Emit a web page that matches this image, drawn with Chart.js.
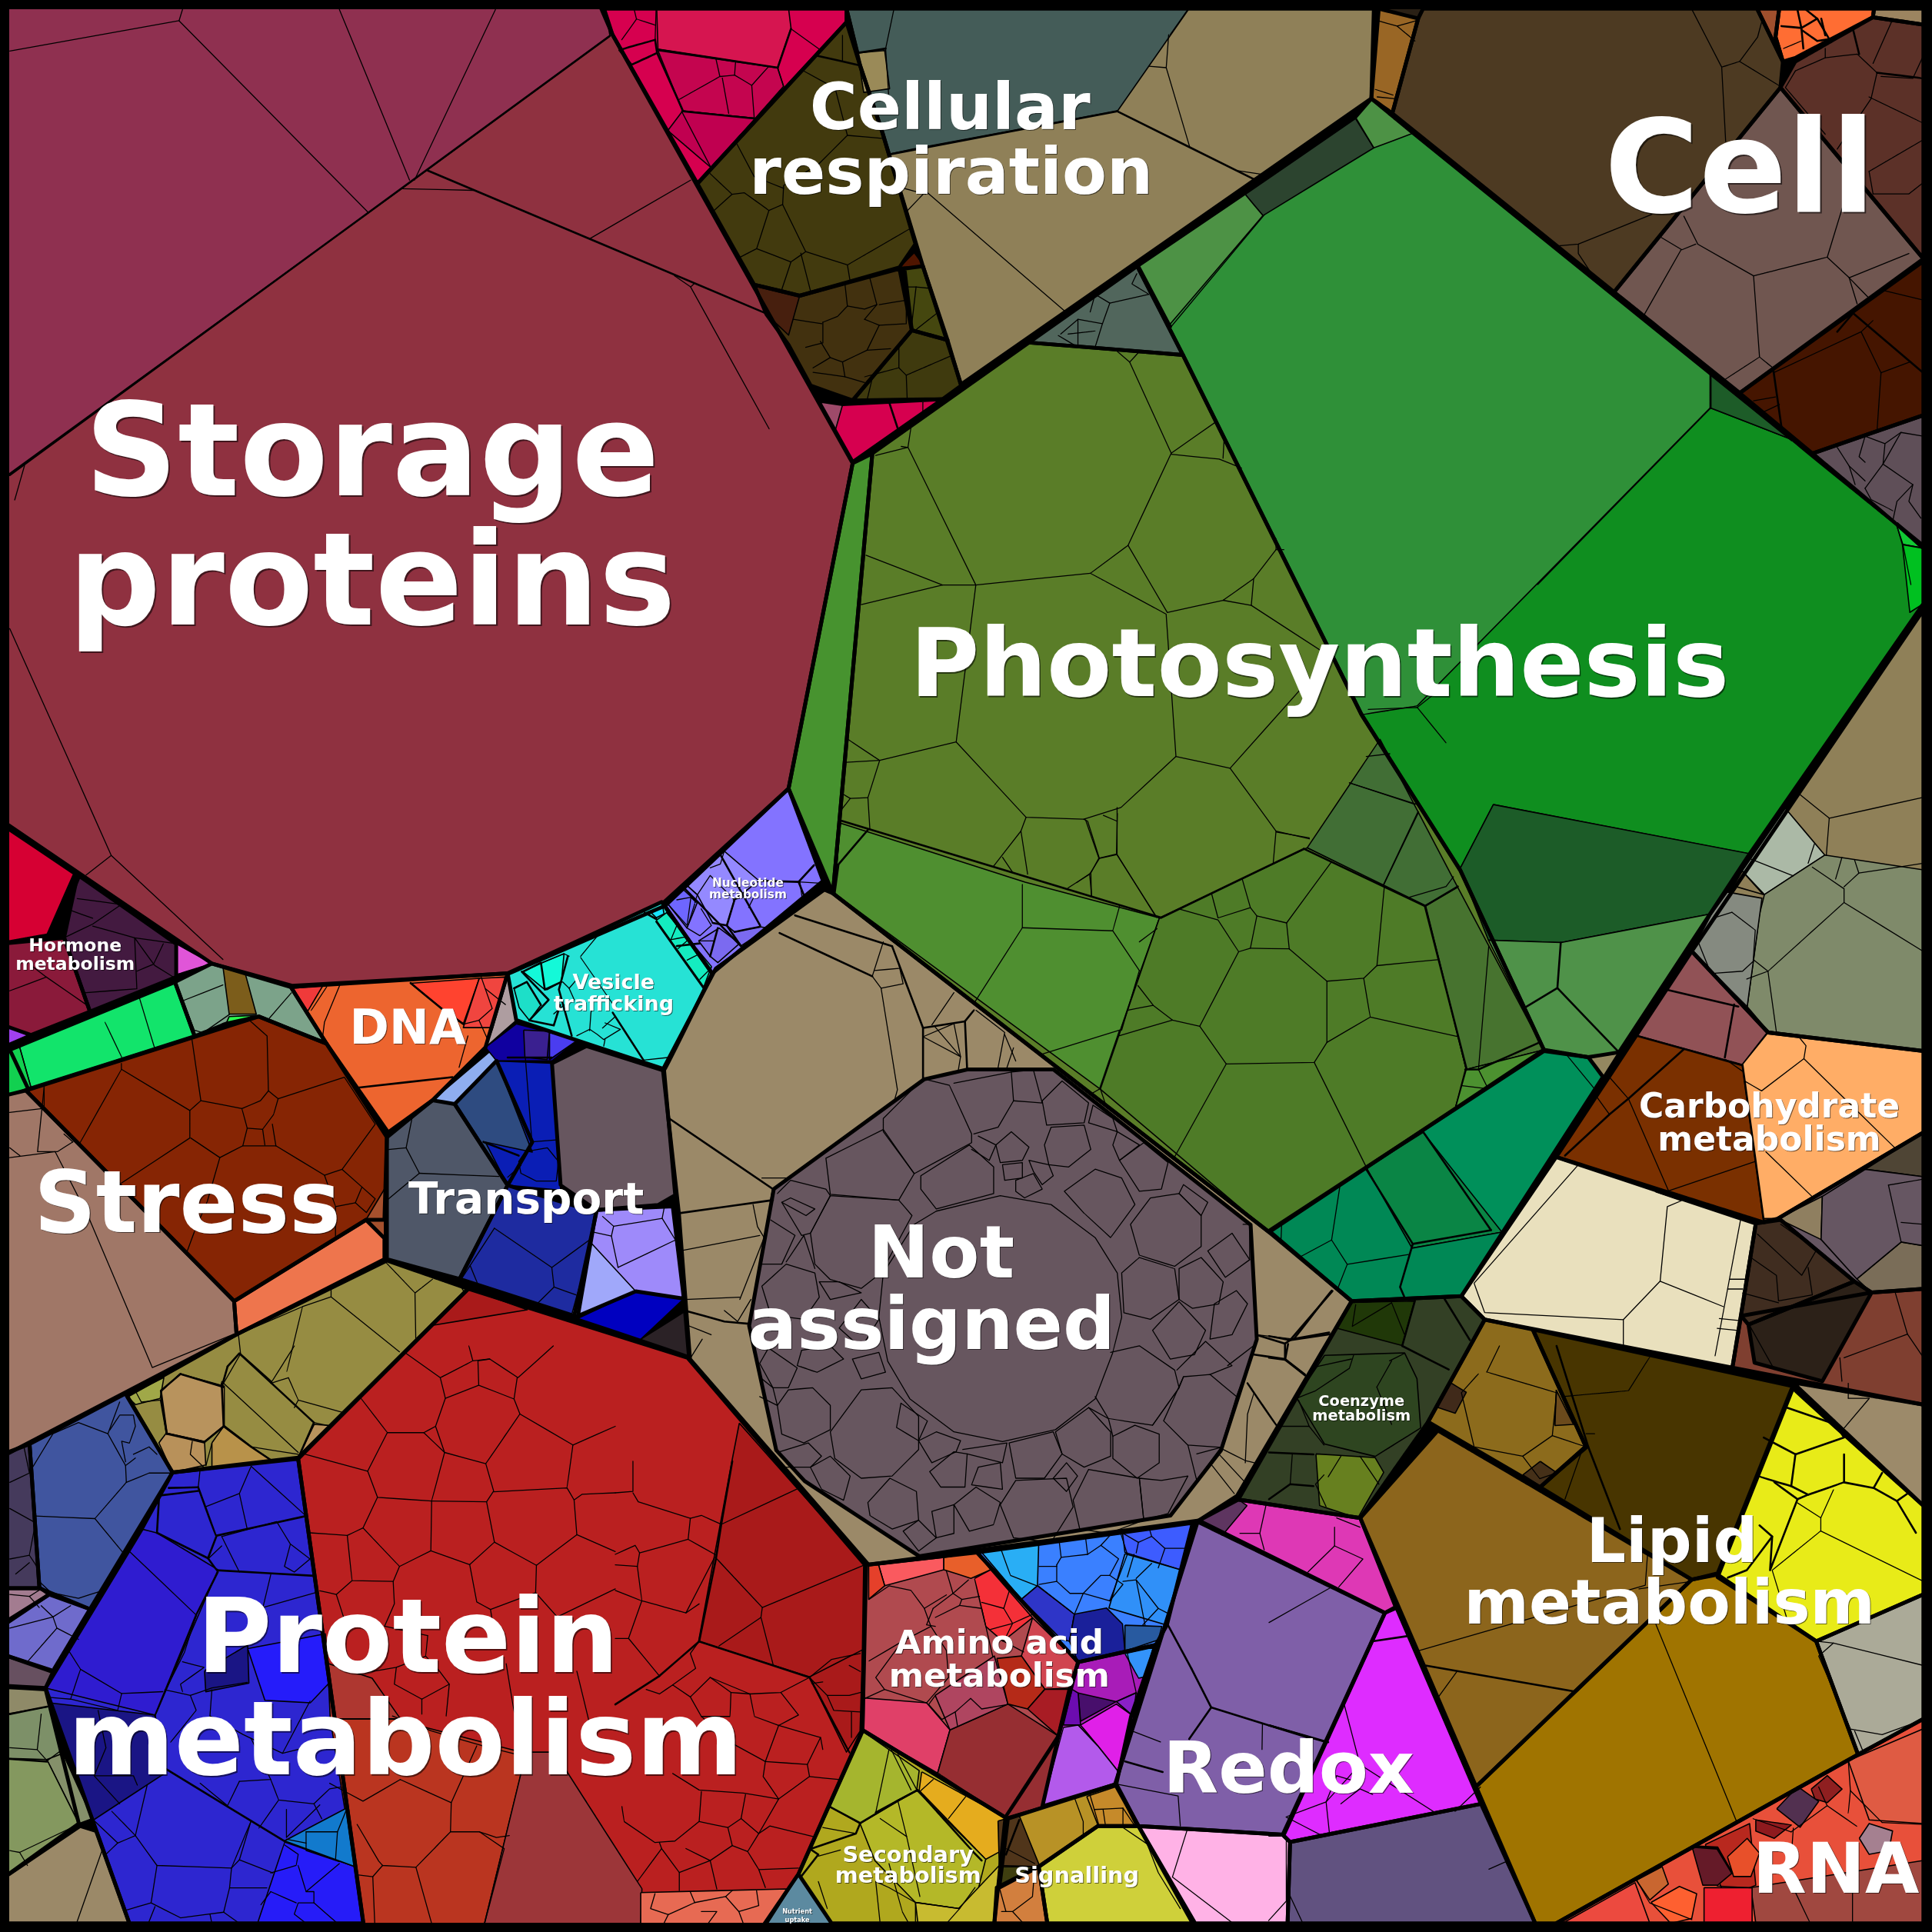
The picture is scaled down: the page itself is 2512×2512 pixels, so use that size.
<!DOCTYPE html>
<html><head><meta charset="utf-8">
<style>html,body{margin:0;padding:0;background:#000}canvas{display:block}</style>
<script src="https://cdn.jsdelivr.net/npm/chart.js@4/dist/chart.umd.min.js"></script>
</head><body><canvas id="c" width="2512" height="2512"></canvas>
<script>
const axisMax = 1568;
const labelTexts = ["Storage","proteins","Photosynthesis","Cell","Cellular","respiration","Not","assigned","Stress","Transport","DNA","Protein","metabolism","Lipid","metabolism","RNA","Redox","Amino acid","metabolism","Carbohydrate","metabolism","Hormone","metabolism","Vesicle","trafficking","Nucleotide","metabolism","Coenzyme","metabolism","Secondary","metabolism","Signalling","Nutrient","uptake"];
const labelX = [302,302,1071,1412,771,772,764,756,152,427,331,331,329,1357,1355,1490,1046,811,811,1436,1436,61,61,498,498,607,607,1105,1105,737,737,874,647,647];
const labelY = [402,507,565,172,105,157,1037,1095,1000,985,847,1357,1440,1268,1318,1536,1455,1342,1369,907,934,772,787,803,820,720,729,1141,1153,1511,1528,1528,1553,1560];
const labelPx = [168,168,123,168,84.5,84.5,95,95,112,56.5,62,133,133,81,81,91,93.5,43.5,43.5,44,44,23.5,23.5,27,27,15.3,15.3,19.4,19.4,28.8,28.8,28.8,8.2,8.2];

const groupRegions = [
["#8F3140",[0,0,488,0,497,28,692,376,640,640,540,735,413,790,237,800,172,782,0,665]],
["#D6004F",[488,7,687,7,687,18,566,149,497,28]],
["#423A0E",[687,18,698,53,716,107,743,198,730,217,649,240,612,231,566,149]],
["#42310F",[649,240,730,218,740,268,692,325,658,313,640,280,622,255,612,231]],
["#3F3A0E",[740,268,769,276,780,313,765,324,692,325]],
["#45470F",[734,218,749,216,769,276,740,268]],
["#D6004F",[664,325,684,328,765,324,692,375]],
["#8F8058",[687,7,1115,7,1113,80,780,312,749,216,716,107,698,53]],
["#51665C",[923,216,960,288,835,278]],
["#2F9038",[1010,157,1100,95,1113,80,1147,108,1388,303,1455,357,1539,425,1561,445,1561,490,1420,693,1314,854,1289,858,1253,852,1185,706,1105,580,960,288,923,216]],
["#5A7D28",[835,278,960,288,1105,580,1185,706,1253,852,1030,1000,676,725,708,368]],
["#47932F",[692,376,708,368,676,725,640,640]],
["#00905A",[1253,853,1289,858,1301,874,1186,1052,1097,1056,1030,999]],
["#7A3000",[1373,772,1435,838,1561,853,1561,919,1443,989,1431,992,1263,939]],
["#E9E0BD",[1263,939,1425,993,1406,1110,1205,1071,1186,1052]],
["#8F8058",[1561,495,1373,772,1435,838,1561,853]],
["#4D3A22",[1155,7,1426,7,1447,50,1445,71,1310,237,1130,92,1151,15]],
["#996625",[1119,7,1151,15,1130,92,1113,80]],
["#705650",[1310,237,1445,71,1561,210,1412,319]],
["#5C3128",[1445,71,1457,50,1520,14,1561,20,1561,210]],
["#FF6D33",[1444,7,1521,7,1520,14,1457,47,1447,50,1441,30]],
["#A04F2D",[1426,7,1444,7,1441,30,1447,50]],
["#9C8460",[1521,7,1561,7,1561,20,1520,14]],
["#451500",[1412,319,1561,212,1561,337,1471,368]],
["#5F4F58",[1471,368,1561,337,1561,443,1539,425]],
["#9B8968",[538,868,581,786,669,722,676,725,1030,1000,1097,1056,1004,1214,973,1234,705,1270,560,1103,551,985]],
["#67565F",[750,876,785,868,855,868,1015,994,1020,1087,991,1177,950,1230,746,1263,653,1202,630,1177,608,1076,628,965]],
["#67565F",[448,863,476,849,539,869,548,970,534,978,484,982,455,962]],
["#4F5768",[314,923,351,893,369,896,412,962,373,1038,314,1022]],
["#2E4B80",[369,896,403,861,432,927,412,962]],
["#1E2BA0",[373,1038,412,962,484,984,466,1068]],
["#9E8AFA",[484,982,546,979,555,1054,516,1048,469,1068]],
["#862504",[21,885,210,825,265,847,314,923,312,990,297,990,190,1056]],
["#EE754D",[190,1056,297,990,312,1005,312,1022,192,1083]],
["#A07767",[0,890,21,885,190,1056,192,1083,0,1183]],
["#12E46B",[8,852,142,797,158,841,23,884]],
["#7CA38A",[142,797,172,782,236,801,265,847,210,825,183,831,158,841]],
["#ED652F",[236,801,412,790,394,850,351,893,315,919,265,847]],
["#26E2D5",[412,790,537,732,578,790,540,868,419,828]],
["#8373FF",[538,733,640,640,668,715,578,790]],
["#D60033",[0,668,61,709,39,759,0,766]],
["#431A40",[63,710,143,766,143,793,73,821,52,761]],
["#8A1A3A",[0,766,52,761,73,821,25,840,0,831]],
["#968C42",[314,1023,380,1046,242,1183,140,1195,103,1133,192,1083]],
["#BA2020",[242,1184,380,1046,558,1102,702,1270,700,1405,648,1521,620,1562,295,1562]],
["#2D26D0",[140,1195,242,1184,295,1561,105,1561,37,1370,115,1241]],
["#40559F",[24,1172,102,1131,140,1195,73,1306,32,1289]],
["#453A5C",[0,1181,24,1172,32,1289,0,1289]],
["#A37C90",[0,1289,33,1289,40,1294,0,1319]],
["#6F6BCC",[0,1321,40,1294,73,1306,43,1356,0,1342]],
["#675060",[0,1342,43,1357,37,1370,0,1368]],
["#7D9068",[0,1369,37,1371,64,1480,0,1526]],
["#9B8968",[0,1526,65,1482,78,1486,105,1561,0,1561]],
["#B04A4F",[703,1270,793,1260,875,1349,868,1371,859,1409,816,1475,700,1404]],
["#3A80FF",[793,1260,968,1236,947,1319,938,1335,875,1349]],
["#A81CB8",[875,1349,938,1335,918,1393,906,1448,846,1466,859,1409]],
["#B0A81E",[700,1404,816,1475,807,1561,675,1561,648,1521]],
["#B89226",[818,1476,906,1448,924,1482,891,1482,843,1515,811,1532]],
["#CFD03A",[891,1482,924,1482,968,1561,850,1561,843,1515]],
["#D27F3E",[809,1532,843,1515,850,1561,807,1561]],
["#7F5FA8",[972,1235,1124,1309,1042,1489,924,1482,905,1448]],
["#DE38B5",[973,1234,1005,1217,1104,1232,1133,1305,1124,1309]],
["#DE2CFF",[1124,1309,1133,1304,1202,1464,1047,1495,1041,1489]],
["#FFB2E6",[924,1482,1041,1489,1047,1495,1045,1561,970,1561]],
["#615280",[1047,1495,1202,1464,1246,1561,1045,1561]],
["#8C651C",[1104,1232,1167,1161,1373,1282,1198,1450]],
["#A07400",[1198,1450,1373,1282,1394,1278,1474,1332,1508,1424,1263,1561,1246,1561]],
["#8C6B1C",[1205,1071,1244,1079,1287,1174,1250,1207,1159,1154]],
["#483500",[1244,1079,1455,1125,1394,1277,1373,1282,1250,1207,1287,1174]],
["#E8EB18",[1455,1127,1561,1222,1561,1294,1474,1332,1394,1280]],
["#ABAA98",[1474,1332,1561,1294,1561,1395,1508,1424]],
["#9C8A6A",[1455,1122,1561,1140,1561,1222]],
["#E8503A",[1263,1561,1508,1424,1561,1395,1561,1561]],
["#7F3F30",[1406,1110,1413,1068,1519,1049,1561,1046,1561,1140]],
["#2C2118",[1419,1075,1505,1040,1519,1049,1479,1121,1424,1106]],
["#402D20",[1425,993,1445,990,1505,1040,1419,1075,1413,1068]],
["#665662",[1443,989,1561,919,1561,1046,1519,1049,1505,1040,1445,990]],
["#334025",[1097,1056,1186,1052,1205,1071,1159,1154,1104,1232,1005,1217]]
];
const subRegions = [
["#8F3050",[0,0,490,0,495,29,333,148,0,390]],
["#D61550",[533,7,640,7,642,23,631,55,534,40]],
["#C4054F",[534,41,631,55,636,70,613,96,554,90]],
["#C00050",[554,90,613,96,577,136,542,106]],
["#471F0E",[612,231,649,240,640,272,622,255]],
["#4F1500",[730,217,742,205,750,216]],
["#9E4A6A",[664,325,684,328,678,349]],
["#445C58",[688,7,965,7,907,90,741,121,722,125,700,55]],
["#9A8A58",[696,43,718,41,722,72,701,75]],
["#2C442F",[1010,157,1100,96,1115,120,1025,175]],
["#4D9245",[923,216,1010,157,1025,175,948,265]],
["#4D9245",[1100,95,1113,81,1147,108,1115,120]],
["#0F8E1F",[1388,331,1455,357,1539,425,1561,490,1420,693,1212,653,1185,705,1105,580,1150,573]],
["#1D5C28",[1388,303,1455,357,1388,331]],
["#11C933",[1539,425,1561,445,1544,442]],
["#00C020",[1544,442,1561,445,1561,490,1550,497]],
["#1C5C28",[1212,653,1421,693,1387,742,1267,765,1208,763,1185,705]],
["#4F9249",[1208,763,1267,765,1387,742,1314,854,1289,858,1253,852]],
["#4F8F30",[677,725,682,668,832,716,941,745,925,790,893,884]],
["#4E7B27",[941,745,1061,688,1157,735,1190,868,1181,900,1030,1000,893,884]],
["#416E35",[1061,688,1120,600,1183,720,1157,735]],
["#47732F",[1157,735,1183,720,1253,852,1190,868]],
["#4C9130",[1190,868,1253,852,1181,900]],
["#0A8545",[1155,919,1219,1000,1146,1013,1109,948]],
["#008855",[1030,999,1109,948,1146,1013,1219,1000,1186,1052,1097,1056]],
["#948860",[1289,858,1313,855,1301,874]],
["#915256",[1373,772,1435,837,1414,864,1327,840]],
["#FFAD66",[1435,838,1561,853,1561,919,1443,989,1431,989,1414,864]],
["#ABB9A6",[1449,656,1481,694,1432,726,1414,707]],
["#8F8058",[1407,719,1414,707,1431,726]],
["#7F8A6A",[1432,726,1481,694,1561,706,1561,853,1435,837,1418,817,1428,742]],
["#858A80",[1402,724,1430,729,1418,817,1373,772,1389,742]],
["#2A2015",[1119,7,1155,7,1151,15]],
["#0A1EB5",[403,861,448,863,455,966,412,962,394,927,432,935]],
["#8FAEF0",[351,893,398,853,403,861,369,896]],
["#1000A0",[394,850,419,831,469,844,448,861,403,861]],
["#3A2090",[425,836,446,837,444,860,426,858]],
["#4A3DF0",[446,838,469,844,446,860]],
["#A0A8FA",[480,1009,516,1048,469,1068,464,1067]],
["#0000C0",[469,1070,516,1048,555,1054,520,1087]],
["#2B2226",[520,1087,555,1065,558,1100]],
["#A5502D",[297,990,312,965,312,1005]],
["#7C5D1B",[181,785,199,790,208,823,186,823]],
["#2BFF50",[186,825,208,824,183,832]],
["#FF432F",[333,798,389,794,376,831,358,818]],
["#F0453F",[389,794,410,793,400,834,376,834]],
["#AE9DA0",[412,793,419,828,394,850,400,834]],
["#F03A3A",[238,802,262,800,249,822]],
["#E055D8",[143,766,172,782,143,791]],
["#A040F0",[0,831,23,840,0,850]],
["#12D050",[0,853,16,850,25,882,0,892]],
["#B8935D",[146,1115,182,1125,182,1157,166,1170,135,1163,130,1130]],
["#B8915A",[135,1163,166,1170,167,1189,140,1195,129,1171]],
["#B8924A",[172,1171,182,1157,204,1174,220,1185,172,1192]],
["#B8935D",[242,1183,255,1156,268,1157]],
["#A0A848",[103,1133,133,1118,130,1135,110,1140]],
["#A91A1A",[600,1155,702,1270,702,1345,657,1361,567,1332,594,1186]],
["#A91A1A",[380,1046,428,1063,349,1076]],
["#A91A1A",[657,1361,700,1339,698,1405,687,1422]],
["#BA3520",[268,1395,318,1395,427,1423,393,1562,295,1562]],
["#9C3639",[427,1422,450,1422,521,1533,520,1562,393,1562]],
["#AE3730",[266,1350,302,1362,325,1395,268,1395]],
["#E76A53",[520,1536,639,1533,620,1561,520,1561]],
["#5C8AA0",[648,1522,675,1561,623,1561]],
["#2F1CD0",[115,1241,127,1244,177,1274,126,1392,37,1370,56,1339]],
["#1A1585",[40,1382,126,1392,134,1439,76,1477]],
["#261CF8",[231,1495,288,1515,295,1561,209,1561]],
["#127ACD",[282,1467,288,1515,231,1494]],
["#251CFA",[201,1338,264,1326,268,1365,252,1382,215,1380]],
["#1A1585",[166,1356,201,1335,202,1366,167,1373]],
["#85906A",[38,1428,51,1423,75,1476,64,1480]],
["#84985F",[0,1427,38,1428,64,1480,0,1526]],
["#8F8A68",[0,1369,37,1371,40,1385,0,1392]],
["#FA5A5F",[713,1270,766,1264,766,1274,718,1287]],
["#E5402A",[705,1270,713,1270,718,1287,705,1298]],
["#E85F2A",[766,1264,793,1260,804,1274,788,1281,766,1274]],
["#F43038",[791,1281,804,1274,838,1313,814,1332,800,1320]],
["#D04550",[838,1313,875,1349,870,1370,848,1371,829,1344]],
["#E04068",[701,1378,752,1382,771,1404,761,1439,700,1404]],
["#962E32",[771,1404,818,1383,859,1409,847,1466,816,1475,761,1439]],
["#AF4560",[759,1376,807,1344,818,1383,771,1404]],
["#B52A18",[809,1346,829,1344,848,1371,834,1387,818,1383]],
["#A81C24",[848,1371,870,1371,859,1409,834,1387]],
["#29AEF5",[796,1259,843,1253,842,1287,829,1298]],
["#3D5CFF",[911,1244,968,1236,958,1274,913,1260]],
["#3090F8",[913,1261,958,1274,947,1319,900,1305]],
["#2E35C8",[829,1298,842,1287,872,1310,868,1332,861,1330]],
["#1A209A",[872,1310,898,1305,911,1318,913,1340,875,1349,868,1332]],
["#285AA0",[913,1319,943,1320,940,1331,913,1340]],
["#3393FA",[913,1342,936,1337,929,1361,924,1362]],
["#480F6C",[875,1374,906,1381,877,1397]],
["#6C0CB0",[870,1371,875,1374,877,1400,863,1400]],
["#8A20C8",[906,1381,922,1374,920,1393]],
["#E020E8",[877,1400,906,1383,920,1393,907,1437,891,1417]],
["#B35AEB",[863,1402,875,1400,891,1417,907,1437,906,1448,846,1466]],
["#A5B52E",[700,1405,746,1437,744,1453,698,1480,673,1466]],
["#E5AC1E",[748,1438,816,1475,811,1503,800,1509,746,1453]],
["#B4B828",[744,1453,800,1509,793,1537,778,1549,743,1544,710,1510,698,1480]],
["#C8BB30",[743,1544,778,1549,811,1514,807,1561,745,1561]],
["#C68A2A",[882,1458,906,1450,922,1482,891,1481]],
["#50351A",[810,1478,827,1473,844,1515,811,1514]],
["#3F3F10",[812,1515,839,1515,811,1531]],
["#5E3560",[973,1234,1005,1217,1012,1222,992,1246]],
["#2E4520",[1052,1134,1075,1100,1140,1098,1150,1119,1153,1159,1116,1182,1075,1172]],
["#203808",[1097,1057,1148,1056,1138,1092,1085,1078]],
["#67801F",[1068,1180,1116,1183,1123,1195,1102,1232,1071,1222]],
["#8F7F60",[1443,989,1479,971,1478,1006]],
["#4F4535",[1514,949,1561,919,1561,955]],
["#7A6D58",[1507,1038,1543,1008,1561,1011,1561,1046,1519,1049]],
["#665662",[1479,971,1514,949,1561,955,1561,1011,1543,1008,1507,1038,1478,1006]],
["#DF5B43",[1500,1429,1561,1403,1561,1480,1517,1477]],
["#EC4A3F",[1268,1561,1327,1528,1339,1561]],
["#A04840",[1421,1532,1561,1510,1561,1561,1425,1561]],
["#B8281E",[1384,1497,1420,1480,1425,1530,1400,1540]],
["#8E1A1E",[1425,1477,1454,1481,1440,1492,1425,1486]],
["#8F1F20",[1470,1452,1483,1441,1495,1452,1483,1463,1473,1460]],
["#523050",[1442,1468,1459,1450,1476,1462,1461,1483]],
["#651A28",[1373,1498,1394,1499,1406,1520,1394,1530,1382,1530]],
["#EE2030",[1383,1532,1422,1532,1422,1561,1383,1561]],
["#FE6030",[1340,1544,1363,1531,1377,1537,1373,1557,1356,1561]],
["#C96630",[1328,1526,1349,1515,1354,1529,1339,1542]],
["#A58090",[1509,1492,1517,1480,1536,1486,1533,1502,1517,1505]],
["#E8502A",[1402,1507,1418,1492,1428,1504,1421,1523,1407,1523]],
["#402A1A",[1177,1122,1190,1130,1181,1147,1166,1142]],
["#6B4A1C",[1263,1128,1277,1156,1262,1157]],
["#453018",[1250,1186,1263,1195,1250,1206,1236,1197]]
];

const cropFrames = {A:[0,1000,900,800,1568,1568],B:[0,1750,800,762,1568,1568],C:[800,1900,900,612,1568,1568],D:[1650,1000,862,800,1568,1568],E:[1650,1750,862,762,1568,1568],F:[700,0,1000,600,1568,1568],G:[1700,0,812,760,1568,1568],H:[850,1150,900,900,1568,1568],I:[0,0,1000,650,1568,1568],J:[1080,430,800,800,1568,1568],K:[1400,1050,600,600,1568,1568],L:[640,1010,440,400,1320,1200]};

const cropFills = [
["L","#14F9D8",[120,760,195,725,280,690,270,800,215,830,205,830]],
["L","#14ECC0",[640,560,680,530,855,740,825,820]],
["L","#18E4FF",[615,525,665,505,670,535,640,550]],
["L","#1DDFC8",[85,825,135,800,190,890,145,950,105,900]],
["L","#6E66FF",[680,490,740,435,800,490,760,590]],
["L","#7B6AF0",[945,605,1045,585,1075,590,970,660,915,580]],
["L","#7B6AF0",[805,640,885,590,965,650,880,725,850,700]],
["L","#9489FF",[750,415,855,330,905,290,1040,405,945,480,915,580,860,570,800,460]]
];

const thinA = [[22,-358,165,0],[100,810,100,865,180,955,275,765,430,870,430,940,275,1055],[275,750,275,765],[430,870,455,845,435,690],[432,940,498,990,550,960,560,915,548,865,455,845],[498,990,470,1100,440,1180,422,1235],[548,865,590,845,608,820,605,680,560,635],[608,820,630,840,620,880,595,918,560,915],[630,840,780,785,850,905,775,1020,735,1035,625,960,550,960],[617,905,625,960],[595,918,600,958],[735,1035,760,1115,805,1105,820,1065,775,1020],[805,1105,830,1130,850,1095,820,1065],[760,1115,760,1190],[415,590,505,550],[415,590,440,665,460,672,520,625],[610,635,660,570],[238,645,278,740],[315,580,350,710],[45,710,70,810],[22,875,95,865,85,975,130,975,165,950],[22,990,125,975,200,1140,345,1525,530,1440],[145,930,165,950],[22,965,45,985],[95,865,100,810],[22,565,105,530,195,600],[105,530,70,500],[210,400,305,430,400,445],[305,430,310,560,190,570],[305,430,350,500,400,535],[370,445,348,497,310,515],[175,330,275,345,210,395,145,430],[160,360,210,380],[770,550,735,645,730,690],[740,555,705,615],[1040,760,1060,680],[935,880,920,965,875,970],[920,965,950,1030,875,1100],[950,1030,1130,1038],[1120,1170,1250,1270,1255,1320,1305,1340],[1250,1270,1335,1200],[1255,1320,1210,1370],[1120,1170,1065,1265,1045,1300],[1065,1265,1085,1320],[1365,1140,1390,1165,1500,1145,1530,1200,1400,1270],[1390,1165,1385,1190,1400,1270],[1505,1115,1500,1145],[1530,1200,1545,1300],[1345,1180,1385,1190],[1190,975,1240,965,1265,1000,1260,1050,1215,1050,1180,1030,1175,1000,1190,975],[1150,1040,1180,1010],[1205,950,1190,975],[1190,735,1205,950,1260,945],[875,1258,940,1335,980,1300],[940,1335,942,1460],[750,1345,905,1485],[750,1320,750,1345,685,1370,650,1535],[685,1370,540,1440],[540,1440,545,1490,615,1560],[545,1490,505,1568],[1040,1310,1050,1330],[1090,530,1115,610,1085,640,1105,690],[1050,650,1085,640],[1100,560,1145,600],[165,0,252,220,195,270],[252,220,505,485]];
const midA = [[810,812,1025,785],[930,545,1000,610,1050,650],[1095,950,1175,985],[170,268,110,425],[183,268,125,425],[1250,735,1150,735]];

const thinB = [[1035,20,1122,85,1205,40,1195,0],[1122,85,1135,140,1110,215,1080,232,987,232,920,140],[1205,40,1248,35,1320,85,1410,0],[1248,35,1218,40,1220,105,1135,140],[1220,105,1310,142,1318,85],[1310,142,1325,182,1238,315,1133,285,1110,215],[1080,232,1133,285,1100,415,962,405,937,335,987,232],[937,335,778,290],[962,405,925,487,1018,590,1098,548,1100,415],[925,487,885,507,790,500],[1100,415,1240,417,1260,525,1197,585,1098,548],[1238,315,1258,388,1240,417],[1258,390,1445,380,1463,412,1483,397,1568,393],[1325,182,1460,265,1568,215],[1460,265,1445,380],[1463,412,1470,505,1568,550],[1260,525,1367,587,1470,505],[885,507,897,628,1002,630,1018,590],[1197,585,1215,685,1250,705,1365,660,1367,587],[1002,630,1005,690,980,750],[897,628,857,665,815,655],[857,665,880,740],[1250,705,1260,770],[1365,660,1420,725,1568,650],[1090,775,980,750],[1090,775,1085,830,1010,860,925,875],[1010,860,1005,905,1075,945,1145,905,1120,870,1085,830],[1145,905,1137,990],[1075,945,1075,985],[1290,850,1310,980],[1470,870,1500,1000],[1000,990,1100,1030,1230,1070,1345,1100],[1020,1160,925,1218,840,1170],[1020,1160,1150,1222,1215,1070],[1150,1222,1148,1300,1060,1395,975,1390,965,1378,910,1280],[1148,1300,1222,1300,1285,1345,1235,1545],[1060,1395,1100,1545],[1222,1300,1265,1315,1298,1310],[975,1390,950,1420,910,1415],[950,1420,955,1545],[510,330,505,380],[525,430,610,395,640,322],[610,395,630,490],[640,322,780,455],[565,510,610,605],[565,510,705,470,740,530,725,590,750,605,790,570,740,530],[530,570,565,535],[690,612,670,700,805,660],[330,550,500,720],[175,815,205,865,310,930,415,925],[205,865,180,945],[310,930,300,975],[125,940,180,945,300,975],[500,720,470,820,420,925],[465,845,520,860,460,905,465,925],[485,935,540,915,630,900],[420,920,485,935,500,975,435,1060],[540,920,535,990,620,1040,720,1090,790,950],[720,1090,835,1060],[610,1165,690,1160,640,1050],[610,1165,580,1230,510,1170],[690,1160,710,1215,800,1225,840,1185,870,1180],[710,1215,660,1290],[800,1225,820,1265],[730,1240,730,1315,815,1228],[375,1175,345,1310,400,1390,590,1397,640,1270],[590,1397,610,1375,695,1410],[640,1270,610,1375],[345,1310,300,1330,240,1270],[285,1245,345,1310],[300,1330,270,1360],[400,1390,385,1490,460,1530,570,1515,585,1450,590,1397],[385,1490,320,1510],[585,1450,680,1450],[570,1515,610,1545],[535,1520,540,1545],[395,1500,378,1545],[725,1335,760,1360,755,1390,690,1410],[760,1390,780,1460,865,1385],[780,1460,800,1460,800,1490,760,1490,750,1520,780,1545],[800,1490,860,1545],[690,1460,755,1490],[690,1460,665,1495],[250,975,270,1075,240,1150,340,1150,350,1175],[240,1150,305,1225],[780,1300,780,1350,865,1380],[780,1300,860,1300,885,1235],[860,1300,855,1375],[730,1320,780,1330],[80,330,135,235,200,205,275,235,320,320,322,365,242,462,90,455],[242,462,315,555],[322,365,380,340,440,340],[75,265,80,330,90,455,100,630,130,660,200,675,260,655],[275,235,305,150],[320,320,345,300],[340,290,380,270,400,290],[280,225,305,185,340,185,345,215,330,260,310,255,320,310],[60,265,75,340,25,365],[25,435,85,470],[25,570,75,560,100,600],[75,560,90,475],[40,610,75,580],[25,665,75,670,105,650],[75,670,100,700],[105,695,135,725,180,695],[135,725,145,755,70,845],[145,755,200,785],[25,755,135,725],[120,1110,165,1075,130,965],[25,1075,95,1080,105,985],[95,1080,120,1110],[50,1355,200,1280],[25,1350,50,1355,70,1390],[260,1350,195,1545],[735,85,760,145,880,180],[735,85,690,100,750,0],[760,145,750,165],[490,255,485,290,520,325],[360,150,410,145],[360,150,345,120],[540,260,525,320],[565,95,760,285],[640,270,760,290],[800,205,845,215]];
const midB = [[430,380,505,378],[505,378,550,508,780,455],[408,400,505,388],[400,500,405,410],[400,500,530,568,552,600,800,615],[552,508,530,568],[555,605,500,720,395,990],[420,1130,725,1325],[25,985,120,965],[25,1105,120,1112],[580,55,610,20,800,205,760,300],[565,110,580,55],[570,215,640,270,690,305],[425,235,520,258,570,215],[460,75,410,120,425,235],[460,75,570,110],[565,100,570,215],[410,145,425,235],[230,705,260,655]];

const thinC = [[40,0,40,100,0,105],[40,105,52,135,170,190,195,180,240,210],[170,190,165,260,228,312],[165,260,55,305,45,280,0,310],[55,305,50,350,60,465,160,505,225,320],[50,350,0,345],[60,465,30,590,100,715],[30,590,0,590],[60,465,0,430],[160,505,190,475],[240,210,415,90],[230,325,333,487,565,345],[333,487,330,520,235,615],[330,520,358,680],[440,720,375,770,305,775,215,720],[215,720,170,785,130,745],[190,600,170,640,182,690,130,745],[130,745,100,775,70,760],[170,785,195,850],[305,775,315,850,370,880,415,845,375,770],[370,880,340,1000,265,940,195,850],[370,880,465,920,435,1010,340,1000],[465,920,470,960],[215,720,262,770,260,850,195,850],[262,770,305,775],[340,1000,335,1050,370,1125,440,1050,435,1010],[440,1050,505,1060],[370,1125,290,1105,190,1095,130,1040],[15,1150,20,1200,90,1270,135,1265,190,1200,195,1100],[190,1200,255,1220,285,1190,295,1110],[255,1220,265,1280,215,1330,160,1290],[285,1190,325,1240,370,1125],[325,1240,300,1300,265,1280],[325,1240,350,1215,448,1250],[105,1290,145,1370,215,1330,230,1425],[145,1370,145,1430],[100,1270,105,1290,50,1400],[300,1300,325,1360,340,1420],[325,1360,415,1355],[440,720,490,660,555,640],[440,720,480,780,530,780,555,770],[445,740,470,735],[480,780,495,830,555,835],[535,835,535,920],[530,680,555,700],[575,460,620,415,670,430,700,490,715,550,750,630,755,720,705,805],[700,490,750,445],[720,490,705,545,725,550],[750,365,765,440,720,490],[765,440,800,395],[765,440,785,460,825,450],[785,460,780,480,725,520],[780,480,830,490,855,650],[575,665,650,600,715,550],[565,790,610,760,590,720,650,600],[610,760,705,805],[830,470,880,490,895,420],[880,490,900,540,945,510],[900,540,880,600,925,635],[850,560,900,540],[725,780,710,810,740,860,770,835,805,790],[805,790,830,825,890,810],[770,835,775,880],[873,290,895,380,955,415],[958,415,1040,510,1060,440,1120,465,1160,310,1145,240],[1000,345,1010,320,1070,310,1100,280,1140,325,1120,380,1100,380,1060,440],[1000,345,1000,400,1030,440,1060,440],[1000,400,960,410],[1070,310,1065,250],[1010,320,1005,260],[1100,280,1125,240],[960,350,1000,350],[1120,380,1150,410,1120,465],[1150,400,1180,395,1200,545],[1160,385,1175,310],[1180,395,1230,490,1250,505],[1230,490,1195,545],[1215,340,1180,390],[1185,270,1180,305],[1150,240,1185,270,1215,250,1245,290,1230,355],[1245,290,1295,290],[1215,250,1210,225],[1135,800,1180,770,1160,640],[1180,770,1190,800,1175,850],[1165,895,1235,935],[1135,1075,1275,1115,1280,1215],[1466,875,1465,960],[1415,240,1460,240,1475,140],[1460,240,1470,295],[1295,1230,1262,1385,1400,1540],[1520,1255,1520,1465,1480,1530],[620,960,590,1170],[625,960,670,1095],[640,975,685,1100],[600,1190,660,1250],[470,1220,545,1240],[680,1470,680,1540],[680,1470,780,1490,815,1420],[780,1490,750,1540],[590,1400,600,1540],[460,1315,510,1295],[460,1400,480,1490],[620,1340,650,1500,665,1540],[590,1400,620,1420,680,1470],[640,1130,660,1250,690,1450],[795,1115,755,1190],[720,1060,690,1100],[1040,1120,1060,1200,1060,1250],[1075,1110,1095,1210],[1085,1160,1150,1155,1175,1210],[1110,1210,1105,1160],[1150,1155,1150,1210],[885,1290,950,1340],[1145,1215,1205,1275,1230,1370,1280,1490],[875,1500,900,1500,945,1450,950,1360],[900,1500,925,1540],[870,1420,885,1500],[90,1440,80,1490,120,1510,110,1540],[170,1435,180,1470,120,1510],[180,1470,250,1450,280,1500,290,1540],[250,1450,265,1430],[320,1430,325,1480,280,1500],[195,1500,230,1500,210,1540]];
const midC = [[265,0,240,210,228,325,190,600],[100,715,0,810],[190,600,440,720],[190,600,100,715],[440,720,530,970],[1250,540,1305,690],[1305,690,1350,820,1300,925],[1350,820,1568,920],[1155,1000,1240,1035],[590,1170,640,1130,685,1095],[555,1205,545,1240,445,1290],[440,1290,460,1310,420,1385],[640,1130,685,1095,810,1300,830,1330],[485,1150,555,1205,640,1130],[915,1195,885,1310]];

const thinD = [[190,35,345,90],[148,1200,168,1060],[148,1200,70,1245],[148,1200,185,1262,330,1237],[185,1262,162,1325],[30,1155,28,1210],[705,730,770,815],[850,840,805,785],[775,835,805,880],[850,840,945,1075],[945,1075,1150,1000],[1080,740,1120,770],[1255,685,1270,705,1265,738,1165,820,1125,795],[1265,738,1480,965],[1175,975,1285,1090],[730,1010,485,1310,510,1385,838,1403,925,1305,942,1115,975,1100,915,1078],[925,1305,1075,1370],[838,1403,838,1470],[1115,1150,1055,1495],[1090,1300,1125,1300],[1085,1325,1120,1325],[1065,1400,1110,1405],[1060,1425,1105,1430],[1360,305,1285,250],[1360,305,1360,340,1180,515,1145,485],[1360,340,1548,465],[1180,515,1200,670],[1360,300,1395,265,1548,240],[1395,265,1385,232],[1340,280,1355,225],[1180,515,1130,535],[1325,125,1548,72],[1325,125,1318,220],[1325,125,1250,60,1220,100],[1130,225,1240,272],[1290,190,1275,240],[1095,365,1150,410,1145,490,1120,515,1055,520],[1095,365,1050,380,1015,440,1045,520],[290,1360,320,1440],[205,1365,197,1420,290,1360],[1465,1060,1548,1045],[1465,1060,1495,1205],[1495,1155,1548,1160],[1155,1185,1260,1290,1295,1225,1210,1160],[1140,1245,1200,1290,1205,1355,1285,1340,1275,1270],[1120,1335,1205,1360],[1135,1415,1195,1530],[1480,1330,1510,1440,1360,1500],[1510,1440,1548,1500],[1350,1500,1355,1560]];
const midD = [[230,1020,340,1210,310,1320,320,1345],[365,925,525,1175],[340,1210,525,1175],[980,715,850,840,805,880,700,985],[940,562,1110,605],[1100,600,1078,735],[865,678,1120,755],[345,1355,315,1470],[415,1350,475,1455],[315,1470,425,1530],[0,1445,50,1455,150,1330],[50,1455,145,1440],[45,1465,38,1505,0,1500],[38,1505,85,1545],[690,442,682,558,605,608],[682,558,828,722],[1120,755,1170,1150],[1135,1415,1385,1305]];

const thinE = [[115,55,195,35],[65,140,110,120,190,60,200,25],[285,40,320,20],[255,110,290,40],[255,110,290,210],[70,145,95,215,130,265],[0,255,30,215,95,215],[50,370,55,290],[140,350,170,295],[215,295,260,370],[130,345,110,370,135,430],[515,70,680,125,670,240,600,295,485,270,455,125,495,75],[515,70,545,0],[680,125,675,210],[670,240,750,270],[600,295,640,355,680,340],[480,270,400,225],[680,340,750,270],[355,815,890,640,895,560],[445,870,400,940],[700,135,850,120,900,30],[750,235,770,235],[700,410,740,280],[875,650,1000,630],[915,745,1105,1270],[1250,420,1305,460,1335,385],[1305,495,1190,600,1225,730],[1305,495,1548,630],[1305,460,1305,495],[1335,795,1548,855],[1335,795,1295,790],[1335,795,1300,830,1375,1025,1450,1040,1548,1000],[1385,1030,1405,1085],[1370,1110,1375,1190,1370,1250],[1375,1190,1450,1275],[1450,1275,1548,1280],[1235,1300,1320,1230,1390,1285],[1320,1230,1300,1180],[1240,1290,1235,1370],[1145,1265,1235,1300],[1370,140,1420,140,1360,220],[1370,100,1370,140],[520,1400,560,1380,610,1500],[45,1460,80,1545],[170,1225,215,1185,245,1200],[870,1430,900,1490,1000,1535],[1060,1445,1140,1450],[1380,1400,1380,1540],[1240,1450,1280,1545],[0,740,148,645],[178,960,215,1120],[215,1120,135,1220,40,1260,125,1310],[135,1220,143,1305],[215,1120,395,1250],[440,1245,500,1180],[160,1150,220,1170],[160,1150,135,1220],[155,485,155,535,92,605],[155,535,222,570,165,645],[160,460,215,485]];
const midE = [[370,855,725,925],[640,380,755,270,680,0],[830,490,755,270],[0,285,105,290],[0,410,50,370,105,375],[1170,245,1245,290,1360,245,1340,210,1225,165],[1245,290,1235,375,1160,350],[1235,375,1275,398,1360,365,1360,290],[1275,398,1250,410,1195,365],[1250,410,1185,600,1190,510],[1360,365,1430,380,1450,340],[1430,380,1485,415,1510,395],[1485,415,1530,500],[1160,480,1190,510,1130,600,1085,620],[1000,1340,1060,1345,1095,1410],[0,1310,35,1310],[0,565,148,645,275,715],[0,1015,135,1060],[245,790,335,775],[0,1015,140,1060]];

const thinF = [[195,30,200,65,170,135],[200,65,238,85],[515,98,575,170],[240,30,238,135],[285,340,370,260,362,200],[370,260,400,255,435,290,470,225],[400,255,402,210],[375,265,388,385],[435,290,440,400],[500,295,488,230],[292,378,352,570],[540,240,605,300,630,460],[630,460,700,470],[630,460,570,560,500,630,498,695],[405,490,440,600,500,640],[350,590,395,660,355,720],[395,660,420,655,470,715,445,845,410,875],[470,715,498,695,545,855,515,890,445,845],[515,890,495,990],[535,860,555,990],[545,855,630,900,635,950],[630,900,760,775],[620,120,620,210],[580,1095,610,1075,630,1040,665,1050,690,1035,675,940],[630,1040,625,965],[580,1095,580,1165,545,1180],[665,1085,690,1035],[665,1085,695,1105,750,1100,750,1020,695,1035],[695,1105,670,1190,620,1230,595,1215,575,1160],[670,1190,718,1185],[520,1085,578,1100],[620,1230,625,1280,665,1300],[625,1280,560,1265],[595,1215,560,1250],[735,1170,735,1250,750,1275,840,1210],[750,1275,752,1360],[735,1250,665,1280],[680,1290,670,1360],[770,975,800,980,812,1065,770,1120],[745,975,770,975],[770,975,760,1120],[1288,118,1325,30],[1285,118,1280,230,1328,500],[1245,225,1280,230],[1425,580,1475,592],[750,720,790,650,1075,1060],[745,640,790,660],[725,30,708,165,714,320],[1220,930,1210,965,1245,1000,1165,1030,1135,1000,1125,1060],[1165,1030,1150,1100,1135,1180],[1150,1100,1100,1085,1065,1135],[1100,1085,1100,1180],[1060,1140,1095,1175],[1080,1135,1135,1125],[1290,1110,1480,730]];
const midF = [[570,190,655,222],[650,180,708,165],[1180,378,1460,610],[715,525,1180,378],[243,168,488,230],[295,378,443,403],[238,135,165,170,190,220,242,180,238,135],[242,180,285,340,295,378],[488,230,515,98],[1225,905,1290,1110]];

const thinG = [[965,25,1035,170,1040,180,1085,165,1130,100,1140,60],[1085,165,1185,230],[1040,180,1050,380],[625,660,680,655,865,575],[680,655,680,680,720,745],[945,580,980,655,1120,740,1305,690,1345,550],[1120,740,1135,958,1045,1020],[1135,958,1170,988],[938,670,845,845],[885,635,940,670,975,655],[1305,690,1360,745,1510,680],[1360,745,1410,800],[1360,745,1380,815],[1225,190,1300,155,1380,145,1430,195,1415,265,1330,400],[1300,155,1300,130],[1410,260,1546,330],[1225,190,1200,235,1300,360],[1440,205,1520,210,1546,150],[1420,520,1510,520,1546,490],[1410,460,1546,375],[1410,460,1420,520],[1420,170,1470,50],[1195,130,1240,110],[1170,1000,1390,890,1440,1000,1430,1155],[1390,890,1420,860],[1440,1000,1515,970],[1450,780,1546,805],[1120,1075,1175,1065],[1145,1105,1185,1085],[1400,1310,1445,1245,1490,1160,1546,1170],[1445,1245,1520,1300,1480,1345,1470,1395],[1400,1310,1415,1340,1470,1370],[1400,1290,1360,1250,1330,1200],[1360,1250,1375,1300],[1450,1190,1400,1170,1385,1225,1400,1240],[1445,1245,1450,1190,1490,1160],[1520,1300,1510,1345,1540,1390],[1478,1405,1495,1460,1546,1470],[1495,1460,1515,1568],[1012,1095,578,1568],[180,25,175,55,225,70,275,55],[225,70,270,110],[170,240,215,255],[175,260,220,265]];
const midG = [[1430,195,1546,210],[1370,80,1385,145],[1190,70,1240,75,1245,130],[1240,75,1280,50,1310,105,1280,110,1240,80],[1280,50,1250,25],[1290,50,1300,95],[1170,995,1190,1145],[1370,840,1546,1000],[1330,890,1370,840],[1240,75,1230,25],[1012,1005,1012,1095]];

const thinH = [[785,705,900,725,1000,800,1050,880,1060,980,1040,1060,1000,1165,910,1235,790,1262,680,1240,580,1165,530,1080,510,980,520,880,590,770,640,740,785,705],[400,705,555,715,585,750,515,880,470,915,400,895,365,860,355,790,400,705],[520,560,590,655,720,585,720,565,670,455,610,440,520,530,520,560],[605,660,715,590,770,640,770,700,640,735,605,690,605,660],[390,620,520,555,590,655,555,715,400,702,390,620],[680,450,810,425,815,490,780,550,725,565],[880,490,925,445,985,495,975,540,890,545,880,490],[885,590,900,550,975,545,990,600,940,640,895,635,885,590],[930,695,1000,645,1060,665,1090,725,1035,800,975,745,930,695],[1055,625,1110,585,1165,630,1150,690,1100,695,1055,625],[1080,770,1125,710,1190,700,1240,750,1240,820,1180,865,1100,840,1080,770],[1060,880,1100,845,1180,870,1190,940,1125,985,1065,970,1060,880],[1190,870,1240,845,1290,900,1280,950,1220,960,1190,940,1190,870],[1130,1010,1190,945,1250,1010,1225,1065,1170,1075,1130,1010],[1035,1060,1100,1045,1180,1100,1190,1140,1130,1225,1030,1210,1000,1160],[1155,1215,1200,1115,1260,1110,1320,1160,1285,1275,1210,1270,1155,1215],[1040,1250,1090,1225,1145,1245,1145,1310,1095,1345,1040,1300,1040,1250],[910,1240,985,1185,1035,1240,1035,1295,975,1320,925,1290,910,1240],[805,1265,905,1240,925,1290,885,1345,820,1345,805,1265],[400,1240,470,1145,540,1140,600,1205,600,1280,540,1340,470,1345,410,1300,400,1240],[280,1180,305,1145,360,1140,400,1180,400,1235,340,1265,290,1245,280,1180],[485,1400,535,1345,595,1375,600,1440,540,1460,490,1430,485,1400],[785,1405,820,1350,935,1345,950,1410,900,1490,815,1480,785,1405],[950,1395,985,1325,1100,1345,1110,1440,1030,1470,965,1460,950,1395],[680,1405,730,1365,785,1400,770,1450,715,1465,680,1405],[625,1330,680,1285,710,1290,705,1365,650,1365,625,1330],[245,910,300,860,365,880,375,935,340,985,265,975,245,910],[240,1085,260,1050,325,1095,305,1140,270,1140,240,1085],[325,1090,335,1055,400,1045,430,1075,370,1105,325,1090],[735,1320,785,1310,790,1370,720,1360,735,1320],[355,1320,400,1295,445,1340,430,1395,380,1370,355,1320],[905,1345,935,1310,960,1340,935,1375,905,1345],[1260,1030,1310,1020,1345,950,1320,920,1270,950,1260,1030],[1255,830,1310,790,1350,850,1295,890,1255,830],[300,855,340,795,365,870],[265,760,320,795,290,860,245,860],[290,720,345,750,365,735,310,710,290,720],[600,1260,640,1240,695,1260,685,1285,630,1310,600,1260],[810,425,860,420,880,495,815,490],[775,590,810,560,850,595,835,625,785,630,775,590],[850,625,895,635,905,660,880,680,860,650,850,625],[790,635,835,630,835,665,795,670,790,635],[820,670,860,655,880,690,840,710,820,695,820,670],[735,570,775,590,760,625,720,600],[375,900,420,900,470,925,400,940,375,900],[420,1005,470,940,510,985,470,1050,420,1005],[450,1075,510,1060,525,1105,470,1120,450,1075],[560,1175,620,1215,600,1260,550,1230,560,1175],[700,1280,800,1265,790,1310,710,1290],[1185,1100,1250,1035,1310,1090,1260,1110],[1130,1225,1190,1140,1200,1115],[985,1185,1030,1210,1040,1250],[1335,770,1350,770,1350,850],[1300,1090,1365,1040,1320,1160],[1050,560,1100,590,1055,625,1040,590,1050,560],[995,500,1040,530,1050,560,985,540,995,500],[1200,680,1255,720,1240,750,1190,700,1200,680],[285,1285,350,1265,380,1295,355,1320,300,1320],[1340,1310,1345,1200,1360,1150],[565,1465,600,1440,640,1480,600,1510,565,1465],[630,1420,680,1405,680,1470,640,1480,630,1420],[1230,1290,1285,1275,1230,1350,1210,1270],[1150,1350,1210,1340,1165,1425,1110,1440,1100,1345,1150,1350],[245,1120,270,1140,280,1180,240,1160],[280,700,310,670,390,690,400,705,355,790,335,795,290,720]];
const midH = [[285,110,495,208],[320,70,540,140],[35,530,270,690],[55,745,270,715],[70,965,160,990,215,995],[540,140,610,325,610,440],[610,325,705,310,710,420],[705,310,725,285],[1365,1020,1430,1040,1430,1075],[1360,1065,1430,1075,1475,1110],[1430,1040,1445,1030,1530,1015],[1535,920,1450,1030],[1345,1130,1410,1225],[270,690,265,720]];
const thinH2 = [[495,208,520,130],[495,208,515,235,565,225,555,180],[500,195,555,190],[515,235,552,465,545,490],[610,345,680,315,695,390,610,345],[635,320,695,390,690,420],[630,318,680,245],[730,285,795,335,780,415],[795,340,820,400],[815,370,800,415],[245,665,310,665],[60,830,240,795],[225,725,235,775,250,800,195,940],[70,940,195,935],[160,965,190,990,220,940],[80,1000,130,1020],[85,1070,110,1030],[1365,1020,1450,1030],[1290,1280,1340,1305,1360,1310],[1260,1310,1315,1380],[1280,1290,1340,1355],[1100,130,1140,100],[835,0,835,98,725,270],[835,98,1040,105,1100,195],[1055,50,1040,105],[878,385,1055,330],[1055,330,1010,462],[1100,195,1060,330]];

const thinI = [[20,160,365,65,372,30],[365,65,750,665],[692,30,835,565],[1010,30,845,565],[820,592,965,597],[1203,748,1408,565],[1375,865,1408,900,1415,890],[1408,900,1568,1345],[50,1460,30,1568]];
const midI = [[20,1490,1243,113],[872,535,1565,985]];

const thinJ = [[725,48,762,80,785,55],[762,80,868,312,758,547,662,618,370,648,197,297,205,245],[868,312,985,230],[868,315,990,327,1047,350],[1003,270,1000,325],[758,547,858,718,1000,687,1078,632,1135,558,1155,558],[1078,632,1072,700,1000,687],[1072,700,1280,835],[1135,558,1135,530],[662,618,855,722,880,1085,1018,1115,1210,900],[370,648,285,648,90,572],[285,648,78,698],[370,648,320,1048,125,1095,45,1042],[320,1048,498,1240,645,1245,740,1215,880,1085],[125,1095,40,1100],[125,1095,95,1190,100,1270],[95,1190,50,1192,30,1180],[50,1192,28,1220],[498,1240,485,1275,415,1365],[485,1275,502,1385],[438,1342,465,1382],[645,1245,655,1250,685,1345,730,1335,730,1215],[695,1235,730,1250],[685,1345,660,1385,605,1420],[660,1385,665,1440],[730,1335,830,1495],[1018,1115,1135,1275,1128,1355],[1135,1275,1220,1295],[197,297,115,318],[180,295,195,297],[1322,1152,1497,1208],[1497,1225,1408,1413],[1365,1085,1425,1078],[1370,965,1495,960,1568,1050],[1495,960,1545,920],[235,183,235,210]];
const midJ = [[25,1248,840,1495],[95,1272,20,1360,10,1435],[150,185,172,252]];

const thinK = [[30,42,75,172,135,158,138,20],[135,158,270,370],[75,172,48,222,0,255],[48,222,50,300],[865,185,713,392,612,368,590,340,562,242],[590,340,480,375,458,292],[350,345,480,382,550,490,590,478,612,368],[590,478,722,480,713,392],[722,480,850,590,975,580,1020,537,1045,270],[1020,537,1225,517],[975,580,997,712,1293,778],[997,712,850,798,850,590],[850,798,807,866,508,871,418,743,550,490],[418,743,325,722,260,672,208,605],[260,672,175,688],[325,722,145,775],[508,871,328,1195],[807,866,983,1220],[1365,890,1400,470],[1365,890,1395,950],[1320,890,1285,1025],[1310,945,1390,955],[1130,305,1255,268,1280,235],[1042,265,1162,15],[80,955,100,1015],[45,975,80,955],[678,83,790,103]];
const midK = [[285,375,772,140],[772,140,1183,335],[1183,335,1325,890],[1183,335,1295,268],[1320,890,1365,890,1568,800]];

const midL = [[640,565,825,825],[115,760,220,870,145,950],[85,825,135,800,190,890],[120,760,190,725,205,830,270,800],[295,700,260,830,310,1010],[470,920,590,1105],[145,950,240,970,265,890],[885,295,1045,580],[745,430,970,660],[1255,345,1195,410,1215,460],[1195,410,1040,405],[945,480,915,580,970,660],[915,580,860,570],[945,605,1045,585],[880,590,850,700],[720,660,810,650],[640,555,595,530]];
const thinL = [[195,725,280,690,300,700],[240,925,280,890],[345,705,480,900],[380,990,385,920,390,900],[330,1010,380,985,410,1005,435,1025,500,985,440,960],[275,800,300,825,330,790],[300,825,320,870],[430,980,480,935],[440,1025,435,1050],[695,640,720,580],[700,635,750,625,810,690],[725,670,760,640],[760,715,810,690],[810,790,855,745],[590,1105,685,1095],[345,700,415,615],[945,480,850,385,800,460,750,415],[720,480,775,470,795,490],[775,470,760,580,680,490],[790,495,760,590,810,620,855,580,815,515],[800,460,790,490],[850,355,890,340,905,290],[860,330,800,365],[805,640,865,640],[1000,510,1020,470],[1200,410,1210,480,1075,585],[1195,410,1280,415],[1010,460,940,480]];

const frameLine = [0,0,1568,0,1568,1568,0,1568,0,0];

const toPoints = flat => { const p = []; for (let i = 0; i < flat.length; i += 2) p.push({x: flat[i], y: flat[i + 1]}); return p; };
const fromCrop = (key, flat) => { const [cx, cy, cw, ch, iw, ih] = cropFrames[key]; const k = axisMax / 2512; return flat.map((v, i) => i % 2 === 0 ? (cx + v * cw / iw) * k : (cy + v * ch / ih) * k); };
const closed = flat => flat.concat(flat[0], flat[1]);
const datasets = [];
const pushFill = (color, flat, width) => datasets.push({data: toPoints(closed(flat)), showLine: true, pointRadius: 0, fill: 'shape', backgroundColor: color, borderColor: width ? '#000' : color, borderWidth: width, tension: 1e-6, capBezierPoints: false, borderJoinStyle: 'round', clip: false});
const pushLine = (flat, width) => datasets.push({data: toPoints(flat), showLine: true, pointRadius: 0, fill: false, borderColor: '#000', borderWidth: width, tension: 1e-6, capBezierPoints: false, borderJoinStyle: 'round', borderCapStyle: 'round', clip: false});

groupRegions.forEach(r => pushFill(r[0], r[1], 0));
subRegions.forEach(r => pushFill(r[0], r[1], 1.6));
cropFills.forEach(r => pushFill(r[1], fromCrop(r[0], r[2]), 1.6));
const thinSets = {A: thinA, B: thinB, C: thinC, D: thinD, E: thinE, F: thinF, G: thinG, H: thinH.concat(thinH2), I: thinI, J: thinJ, K: thinK, L: thinL};
const midSets = {A: midA, B: midB, C: midC, D: midD, E: midE, F: midF, G: midG, H: midH, I: midI, J: midJ, K: midK, L: midL};
Object.keys(thinSets).forEach(k => thinSets[k].forEach(p => pushLine(fromCrop(k, p), 1.3)));
Object.keys(midSets).forEach(k => midSets[k].forEach(p => pushLine(fromCrop(k, p), 2.6)));
groupRegions.forEach(r => pushLine(closed(r[1]), 5));
pushLine(frameLine, 24);
datasets.forEach((d, i) => { d.order = datasets.length - i; });

const labelPlugin = { id: 'labelPlugin', afterDraw(chart) {
  const {ctx, scales} = chart;
  ctx.save(); ctx.textAlign = 'center'; ctx.textBaseline = 'alphabetic';
  labelTexts.forEach((t, i) => {
    const s = labelPx[i];
    ctx.font = `bold ${s}px "DejaVu Sans"`;
    ctx.shadowColor = 'rgba(0,0,0,0.55)'; ctx.shadowBlur = 0; ctx.shadowOffsetX = Math.max(1, s * 0.012); ctx.shadowOffsetY = Math.max(1, s * 0.012);
    ctx.fillStyle = '#fff';
    ctx.fillText(t, scales.x.getPixelForValue(labelX[i]), scales.y.getPixelForValue(labelY[i]));
  });
  ctx.restore();
}};

new Chart(document.getElementById('c'), {
  type: 'scatter',
  data: {datasets},
  plugins: [labelPlugin],
  options: {
    responsive: false, animation: false, events: [],
    layout: {padding: 0},
    plugins: {legend: {display: false}, tooltip: {enabled: false}, title: {display: false}},
    scales: {
      x: {type: 'linear', min: 0, max: axisMax, display: false},
      y: {type: 'linear', min: 0, max: axisMax, reverse: true, display: false}
    }
  }
});
</script></body></html>
